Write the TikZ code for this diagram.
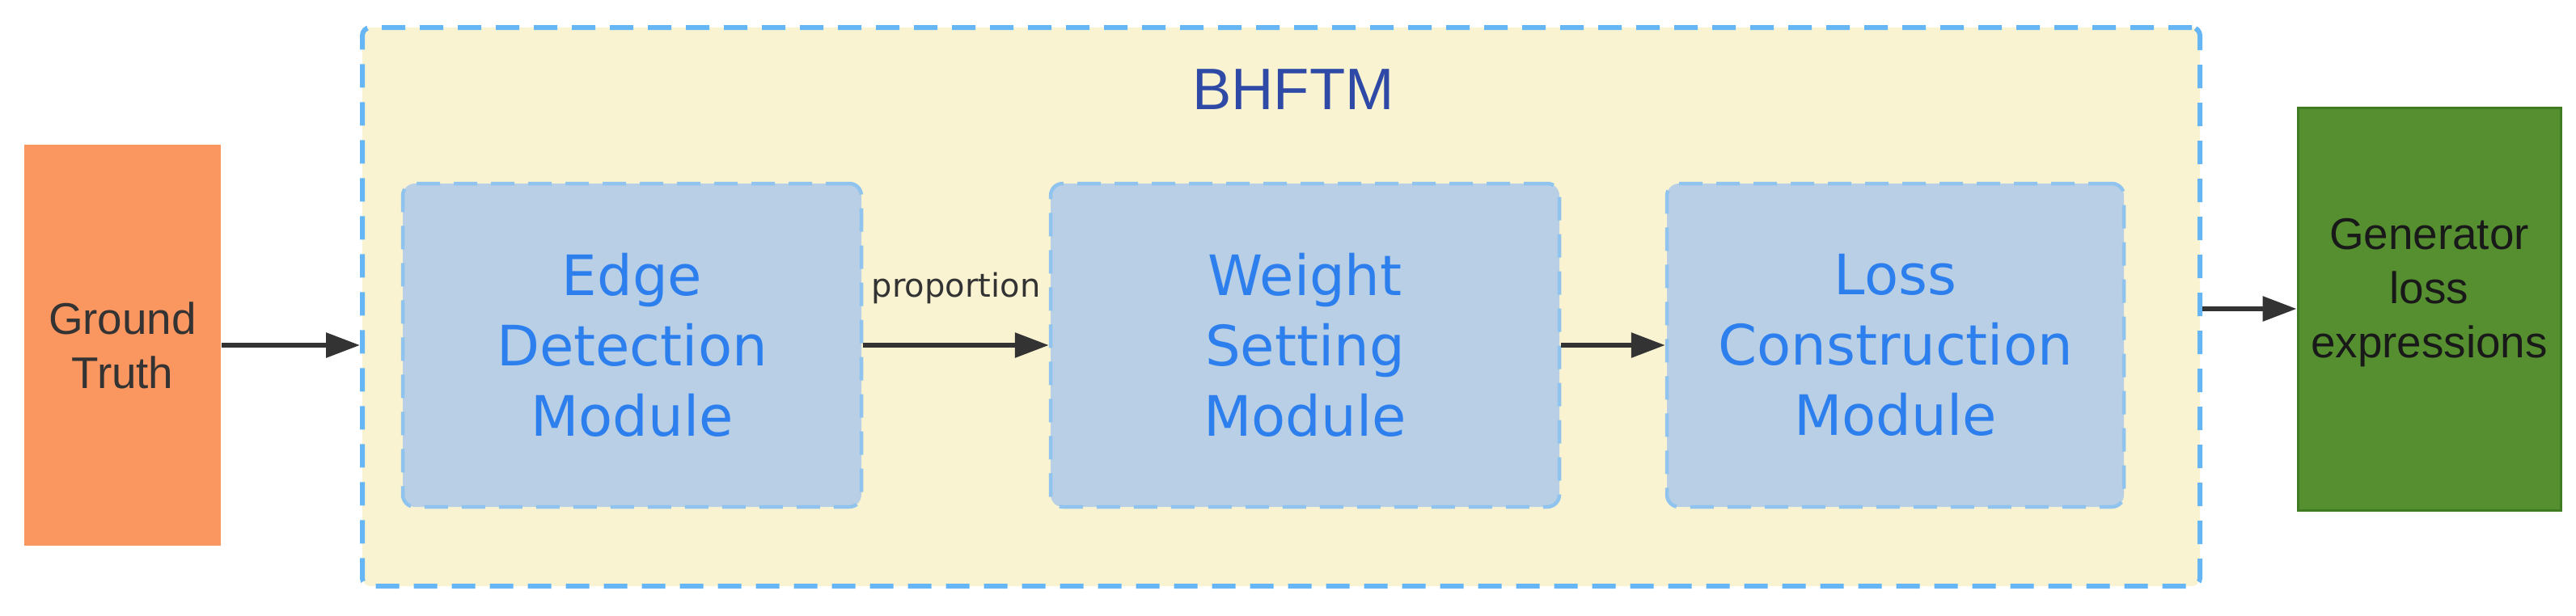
\documentclass[tikz,border=0pt]{standalone}
\usepackage{fontspec}
\setmainfont{Liberation Sans}
\newfontfamily\dejavu{DejaVu Sans}
\usepackage{xcolor}
\usepackage{tikz}
\usetikzlibrary{positioning,arrows.meta}

\definecolor{gtorange}{HTML}{FA9660}
\definecolor{cream}{HTML}{F9F3D1}
\definecolor{outerdash}{HTML}{66B5F5}
\definecolor{modfill}{HTML}{B8CFE5}
\definecolor{moddash}{HTML}{90C4EE}
\definecolor{modtext}{HTML}{2E7FEE}
\definecolor{titleblue}{HTML}{2E4AA6}
\definecolor{gengreen}{HTML}{558F30}
\definecolor{genborder}{HTML}{3E7B22}
\definecolor{arrowgray}{HTML}{333333}

\tikzset{
  frame/.style={draw=outerdash, fill=cream, line width=0.06cm,
    dash pattern=on 0.29cm off 0.18cm, rounded corners=0.1cm,
    minimum width=22.72cm, minimum height=6.91cm},
  module/.style={draw=moddash, fill=modfill, line width=0.045cm,
    dash pattern=on 0.29cm off 0.17cm, rounded corners=0.15cm,
    minimum height=4cm, align=center, text=modtext,
    font=\dejavu\fontsize{19.6}{24.75}\selectfont},
  sidebox/.style={minimum width=2.43cm, minimum height=4.96cm, align=center,
    font=\fontsize{15.6}{19.1}\selectfont},
  arrow/.style={-{Triangle[length=0.42cm,width=0.30cm]}, line width=0.06cm,
    color=arrowgray}
}

\begin{document}
\begin{tikzpicture}[node distance=2cm,on grid]
  \useasboundingbox (0,0) rectangle (31.85,7.61);
  \node[frame]  (bhftm) at (15.84,3.815) {};
  \node[text=titleblue, font=\fontsize{20.6}{24}\selectfont] (title) at (15.99,6.5) {BHFTM};
  \node[module, minimum width=5.67cm] (edge) at (7.815,3.34) {Edge\\Detection\\Module};
  \node[module, minimum width=6.29cm] (weight) [right=8.32cm of edge] {Weight\\Setting\\Module};
  \node[module, minimum width=5.65cm] (loss) [right=7.30cm of weight] {Loss\\Construction\\Module};
  \node[sidebox, fill=gtorange, text=arrowgray] (gt) [left=6.30cm of edge] {Ground\\Truth};
  \node[sidebox, fill=gengreen, draw=genborder, line width=0.03cm, minimum width=3.25cm,
        minimum height=4.98cm, yshift=0.45cm,
        label={[sidebox, minimum height=0pt, text=black!90, yshift=0.2cm]center:Generator\\loss\\expressions}]
        (gen) [right=6.60cm of loss] {};
  \path[arrow] (gt) edge (gt -| bhftm.west);
  \path[arrow] (edge) edge node[anchor=base, inner sep=0pt, yshift=0.6cm, text=arrowgray,
        font=\dejavu\fontsize{11.4}{13}\selectfont] {proportion} (weight);
  \path[arrow] (weight) edge (loss);
  \path[arrow] (gen -| bhftm.east) edge (gen);
\end{tikzpicture}
\end{document}
